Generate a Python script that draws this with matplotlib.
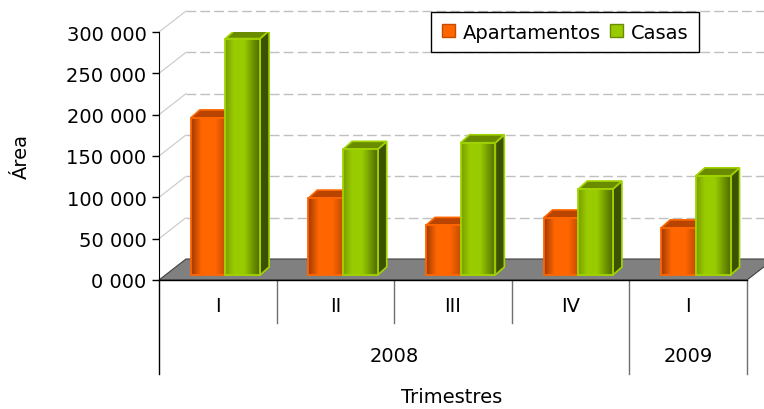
import numpy as np
import matplotlib.pyplot as plt
from matplotlib.patches import Polygon, Rectangle, Patch
from matplotlib.colors import LinearSegmentedColormap

# data
quarters = ['I', 'II', 'III', 'IV', 'I']
years = ['2008', '2009']
year_spans = [(0, 3), (4, 4)]
apartamentos = [190000, 93000, 60000, 69000, 57000]
casas = [286000, 152000, 160000, 104000, 120000]
yticks = [0, 50000, 100000, 150000, 200000, 250000, 300000]
ytick_labels = ['0 000', '50 000', '100 000', '150 000', '200 000', '250 000', '300 000']

plt.rcParams['font.family'] = 'DejaVu Sans'
FS = 14

W, H = 764, 410
fig = plt.figure(figsize=(W / 100, H / 100), dpi=100)
ax = fig.add_axes([159 / W, (H - 281) / H, 588 / W, 248 / H])
ax.set_xlim(-0.5, 4.5)
ax.set_ylim(0, 300000)

px_x = 5 / 588.0          # data units per pixel (x)
px_y = 300000 / 248.0     # data units per pixel (y)

# 3d-ish depth offsets
FLOOR_DX, FLOOR_DY = 27 * px_x, 21 * px_y
BAR_DX, BAR_DY = 9 * px_x, 8 * px_y
BAR_BASE = 5 * px_y

# back wall gridlines + left wall diagonals
for v in yticks[1:]:
    ax.plot([-0.5 + FLOOR_DX, 4.5 + FLOOR_DX], [v + FLOOR_DY] * 2, color='#c0c0c0',
            lw=1, ls=(0, (7, 3)), clip_on=False, zorder=1)
    ax.plot([-0.5, -0.5 + FLOOR_DX], [v, v + FLOOR_DY], color='#c8c8c8',
            lw=0.8, clip_on=False, zorder=1)

# floor
floor = Polygon([(-0.5, 0), (4.5, 0), (4.5 + FLOOR_DX, FLOOR_DY), (-0.5 + FLOOR_DX, FLOOR_DY)],
                closed=True, facecolor='#808080', edgecolor='#404040', lw=0.8,
                clip_on=False, zorder=2)
ax.add_patch(floor)

orange_cmap = LinearSegmentedColormap.from_list(
    'o', [(0, '#a23a00'), (0.3, '#ff6600'), (0.7, '#ff6600'), (1, '#c44c00')])
green_cmap = LinearSegmentedColormap.from_list(
    'g', [(0, '#7a9e00'), (0.25, '#99cc00'), (0.55, '#99cc00'), (1, '#506a00')])
grad = np.linspace(0, 1, 64).reshape(1, -1)

z = [3]


def draw_bar(x0, w, v, cmap, side_col, top_col, edge_col):
    b = BAR_BASE
    zz = z[0]
    side = Polygon([(x0 + w, b), (x0 + w + BAR_DX, b + BAR_DY),
                    (x0 + w + BAR_DX, b + v + BAR_DY), (x0 + w, b + v)],
                   closed=True, facecolor=side_col, edgecolor=edge_col, lw=1.2, zorder=zz)
    top = Polygon([(x0, b + v), (x0 + w, b + v), (x0 + w + BAR_DX, b + v + BAR_DY),
                   (x0 + BAR_DX, b + v + BAR_DY)],
                  closed=True, facecolor=top_col, edgecolor=edge_col, lw=1.2, zorder=zz)
    ax.add_patch(side)
    ax.add_patch(top)
    ax.imshow(grad, cmap=cmap, extent=(x0, x0 + w, b, b + v), aspect='auto',
              interpolation='bilinear', zorder=zz + 0.1)
    ax.add_patch(Rectangle((x0, b), w, v, fill=False, edgecolor=edge_col, lw=1.3, zorder=zz + 0.2))
    z[0] += 1


bw = 0.295
for i in range(len(quarters)):
    draw_bar(i - 0.23, bw, apartamentos[i], orange_cmap, '#8a3000', '#b84400', '#ff6600')
    draw_bar(i - 0.23 + bw, bw, casas[i], green_cmap, '#3d5200', '#6a8a00', '#a2d400')

ax.set_xlim(-0.5, 4.5)
ax.set_ylim(0, 300000)

# axes
for s in ['top', 'right', 'bottom']:
    ax.spines[s].set_visible(False)
ax.spines['left'].set_color('black')
ax.spines['left'].set_zorder(20)
ax.set_xticks([])
ax.set_yticks(yticks)
ax.set_yticklabels(ytick_labels)
ax.tick_params(axis='y', length=5, width=1, pad=4, labelsize=FS, colors='black')
ax.plot([-0.5, 4.5], [0, 0], color='black', lw=1, clip_on=False, zorder=20)

# category table below
ROW1 = -43 * px_y
ROW2 = -94 * px_y
ax.plot([-0.5, -0.5], [0, ROW2], color='black', lw=1, clip_on=False, zorder=20)
for xd in [0.5, 1.5, 2.5]:
    ax.plot([xd, xd], [0, ROW1], color='#707070', lw=1, clip_on=False)
for xd in [3.5, 4.5]:
    ax.plot([xd, xd], [0, ROW2], color='#707070', lw=1, clip_on=False)
for i, q in enumerate(quarters):
    ax.text(i, -26 * px_y, q, ha='center', va='center', fontsize=FS)
for yr, (a, b) in zip(years, year_spans):
    ax.text((a + b) / 2, -76 * px_y, yr, ha='center', va='center', fontsize=FS)

fig.text(452 / W, 1 - 398 / H, 'Trimestres', ha='center', va='center', fontsize=FS)
fig.text(21 / W, 1 - 157 / H, 'Área', ha='center', va='center', rotation=90, fontsize=FS)

handles = [Patch(facecolor='#ff6600', edgecolor='#c44c00'),
           Patch(facecolor='#99cc00', edgecolor='#6a8a00')]
leg = fig.legend(handles, ['Apartamentos', 'Casas'], loc='upper right',
                 bbox_to_anchor=(699 / W, 1 - 13 / H), ncol=2, frameon=True, fancybox=False,
                 edgecolor='black', framealpha=1, handlelength=0.65, handleheight=0.65,
                 handletextpad=0.4, columnspacing=0.5, borderpad=0.55, borderaxespad=0,
                 fontsize=FS)
leg.get_frame().set_linewidth(1)

fig.savefig('out.png', dpi=100)
